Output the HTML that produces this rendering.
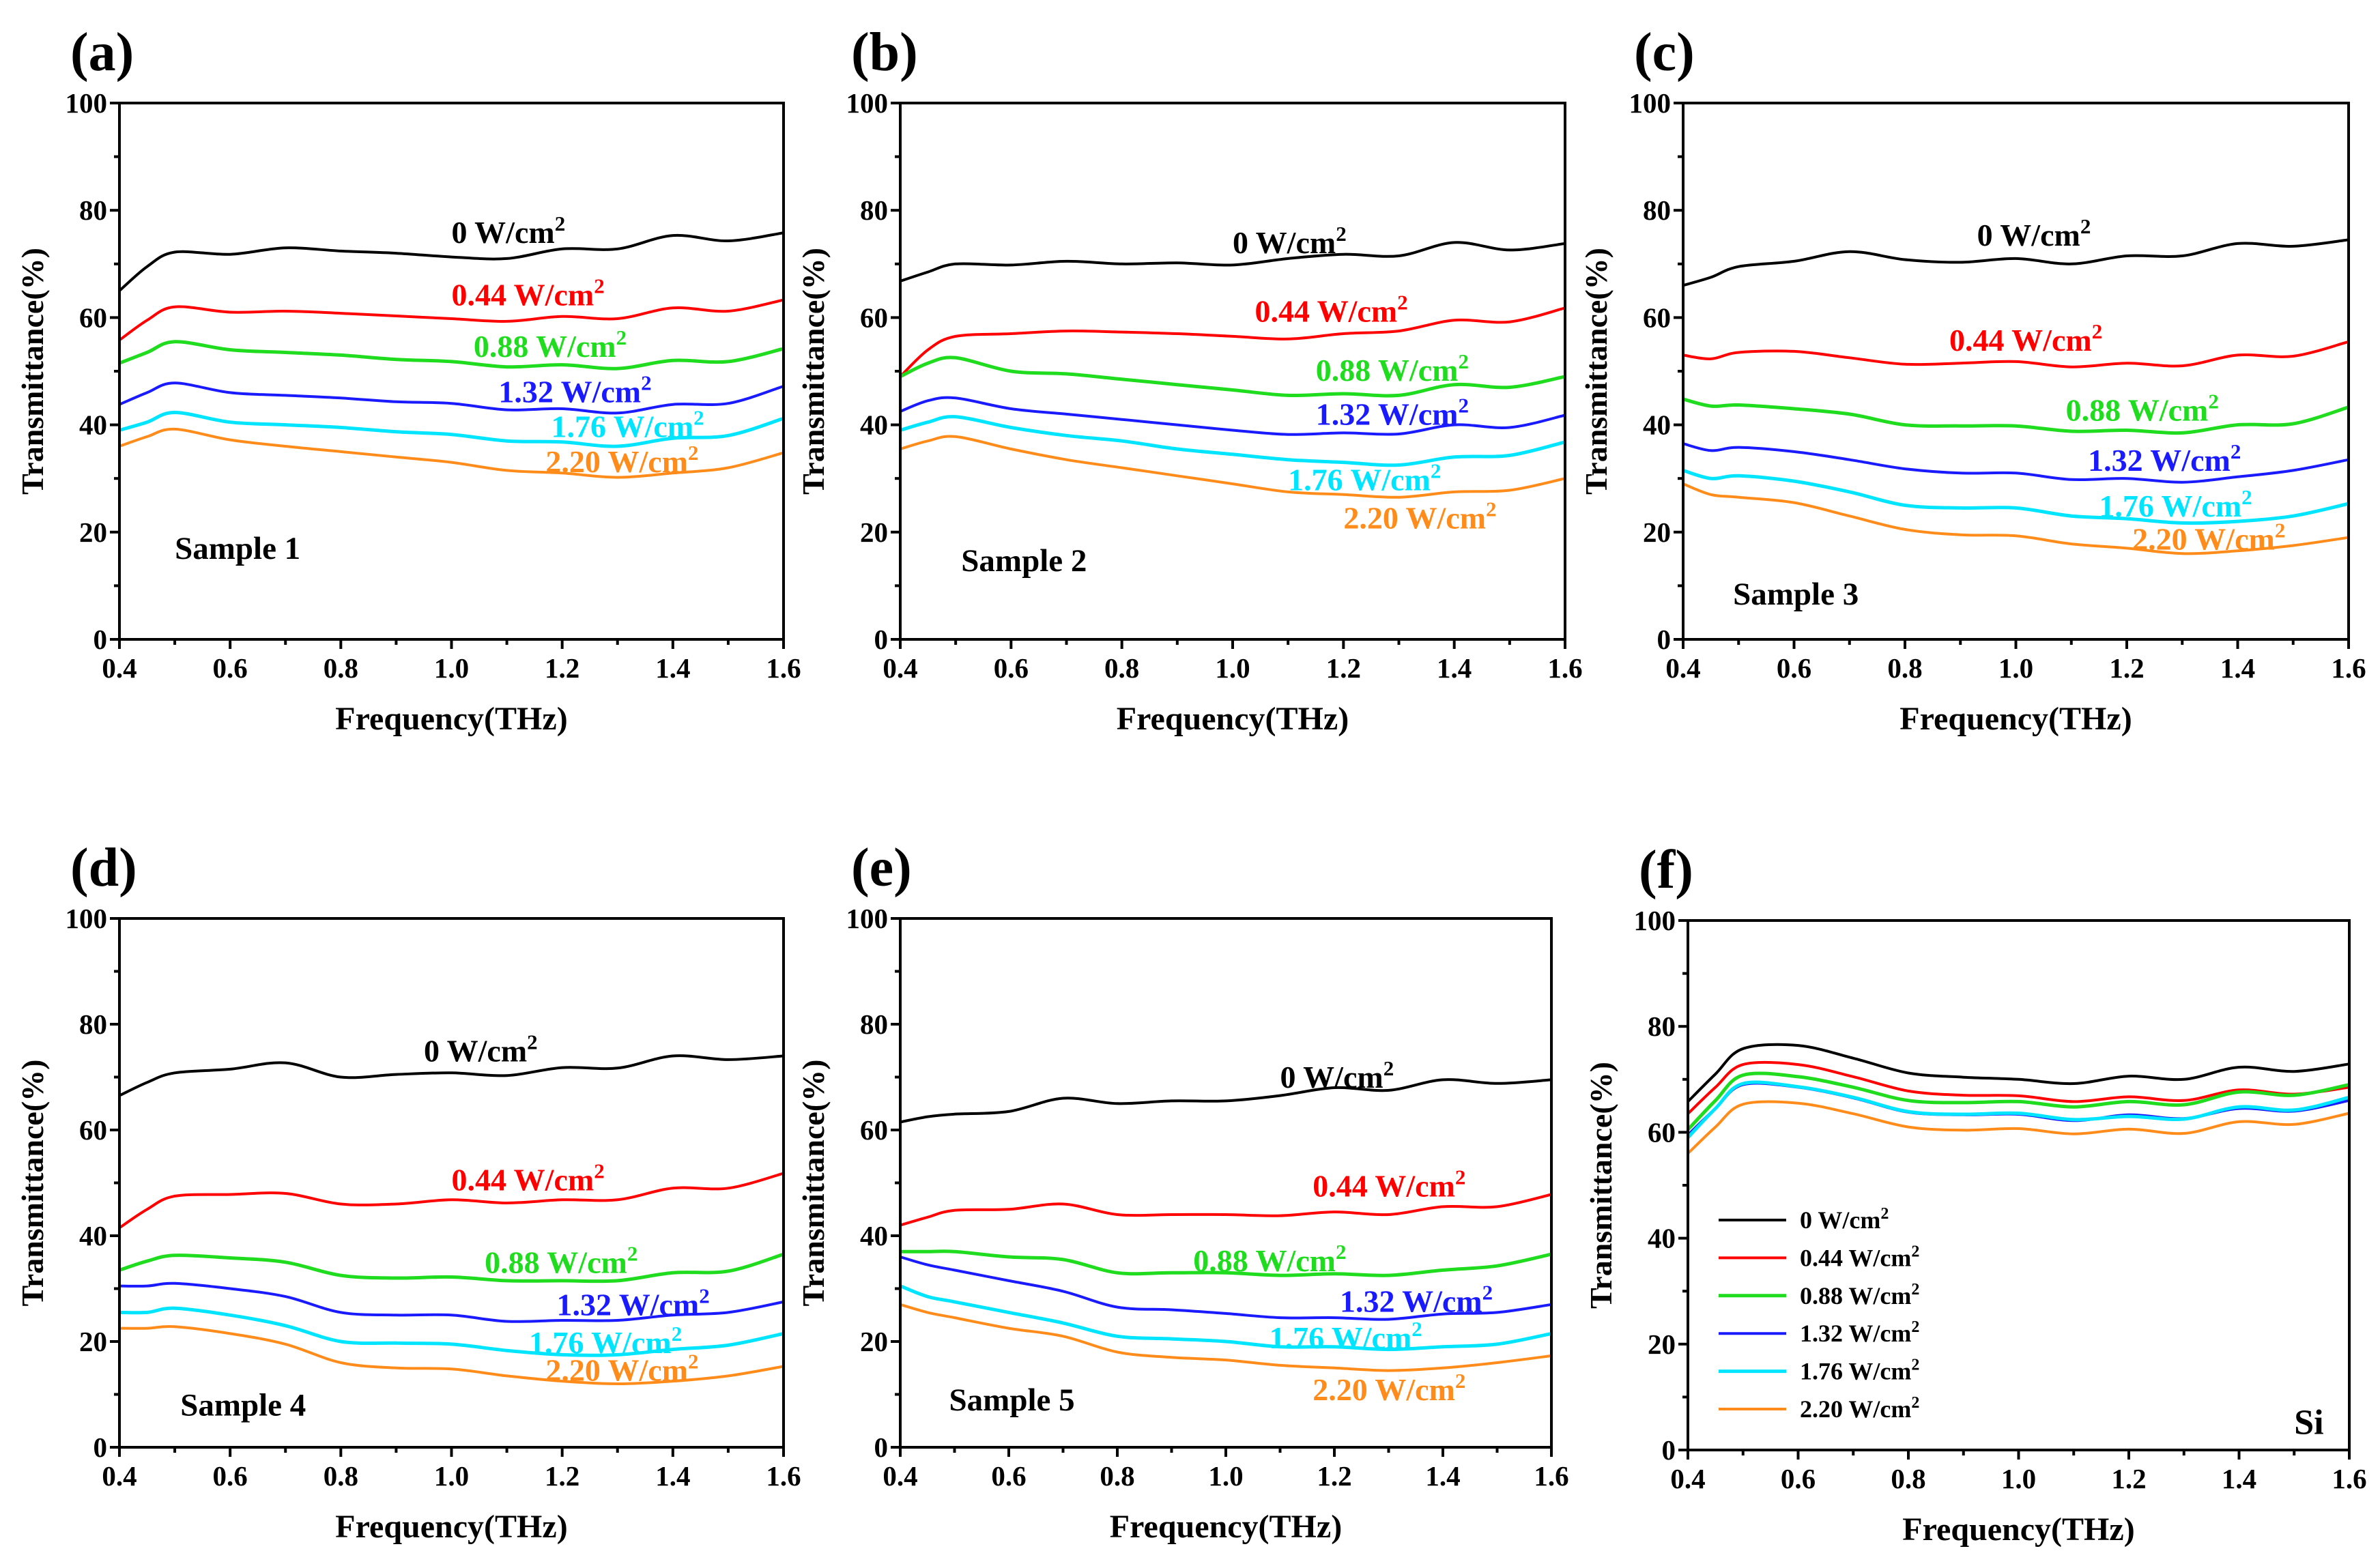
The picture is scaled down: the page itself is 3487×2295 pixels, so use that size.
<!DOCTYPE html>
<html><head><meta charset="utf-8"><style>
html,body{margin:0;padding:0;background:#fff;}
svg{display:block;}
text{font-family:"Liberation Serif",serif;font-weight:bold;}
</style></head><body>
<svg id="fig" width="3487" height="2295" viewBox="0 0 3487 2295" xmlns="http://www.w3.org/2000/svg"></svg>
<script>
const freqs = [0.4,0.45,0.5,0.6,0.7,0.8,0.9,1.0,1.1,1.2,1.3,1.4,1.5,1.6];
const seriesNames = ["0 W/cm","0.44 W/cm","0.88 W/cm","1.32 W/cm","1.76 W/cm","2.20 W/cm"];
const seriesColors = ["#000000","#ff0000","#1fdc1f","#1a1aff","#00e5ff","#ff8c1a"];
const xTicks = ["0.4","0.6","0.8","1.0","1.2","1.4","1.6"];
const yTicks = ["0","20","40","60","80","100"];

const a0=[65,69.5,72.2,71.8,73,72.4,72,71.3,71,72.8,72.8,75.3,74.3,75.8];
const a1=[55.8,59.5,62,61,61.2,60.8,60.3,59.8,59.3,60.2,59.8,61.8,61.2,63.3];
const a2=[51.5,53.5,55.5,54,53.5,53,52.2,51.8,50.8,51.2,50.5,52,51.8,54.2];
const a3=[43.8,46,47.8,46,45.5,45,44.3,44,42.8,43,42.2,43.8,44,47.2];
const a4=[39,40.5,42.3,40.5,40,39.5,38.7,38.2,37,36.8,36,37.5,38,41.2];
const a5=[36,37.8,39.2,37.2,36,35,34,33,31.5,31,30.2,31,32,34.8];

const b0=[66.8,68.5,70,69.8,70.5,70,70.2,69.8,71,71.8,71.5,74,72.6,73.8];
const b1=[49,54,56.5,57,57.5,57.3,57,56.5,56,57,57.5,59.5,59.2,61.8];
const b2=[49,51.5,52.5,50,49.5,48.5,47.5,46.5,45.5,45.8,45.5,47.5,47,49];
const b3=[42.5,44.5,45,43,42,41,40,39,38.2,38.5,38.3,40,39.5,41.8];
const b4=[39,40.5,41.5,39.5,38,37,35.5,34.5,33.5,33,32.5,34,34.3,36.8];
const b5=[35.5,37,37.8,35.5,33.5,32,30.5,29,27.5,27,26.5,27.5,27.8,30];

const c0=[66,67.5,69.5,70.5,72.3,70.8,70.3,71,70,71.5,71.5,73.8,73.3,74.5];
const c1=[53,52.3,53.5,53.7,52.5,51.3,51.5,51.8,50.8,51.5,51,53,52.8,55.5];
const c2=[44.8,43.5,43.7,43,42,40,39.8,39.8,38.8,39,38.5,40,40.2,43.3];
const c3=[36.5,35.2,35.8,35,33.5,31.8,31,31,29.8,30,29.3,30.3,31.5,33.5];
const c4=[31.5,30,30.5,29.5,27.5,25,24.5,24.5,23,22.5,21.7,22,23,25.3];
const c5=[29,27,26.5,25.5,23,20.5,19.5,19.3,17.8,17,16,16.5,17.5,19];

const d0=[66.5,69,70.8,71.5,72.7,70,70.5,70.8,70.3,71.8,71.7,74,73.3,74];
const d1=[41.5,45,47.5,47.8,48,46,46,46.8,46.2,46.8,46.8,49,49,51.8];
const d2=[33.5,35.2,36.3,35.8,35,32.5,32,32.2,31.5,31.5,31.5,33,33.3,36.5];
const d3=[30.5,30.5,31,30,28.5,25.5,25,25,23.8,24,24,25,25.5,27.5];
const d4=[25.5,25.5,26.3,25,23,20,19.7,19.5,18.3,17.5,17.5,18.5,19.3,21.5];
const d5=[22.5,22.5,22.8,21.5,19.5,16,15,14.8,13.5,12.5,12,12.5,13.5,15.3];

const e0=[61.5,62.5,63,63.5,66,65,65.5,65.5,66.5,68,67.5,69.5,68.8,69.5];
const e1=[42,43.5,44.8,45,46,44,44,44,43.8,44.5,44,45.5,45.5,47.8];
const e2=[37,37,37,36,35.5,33,33,33,32.5,32.8,32.5,33.5,34.3,36.5];
const e3=[36,34.5,33.5,31.5,29.5,26.5,26,25.3,24.5,24.5,24.2,25.2,25.5,27];
const e4=[30.5,28.5,27.5,25.5,23.5,21,20.5,20,19,19,18.5,19,19.5,21.5];
const e5=[27,25.5,24.5,22.5,21,18,17,16.5,15.5,15,14.5,15,16,17.3];

const f0=[65.8,71,75.8,76.4,74,71.2,70.4,70,69.2,70.6,70,72.3,71.5,72.9];
const f1=[63.5,68.5,72.8,72.8,70.5,67.8,67,66.9,65.8,66.7,66,68,67.2,68.5];
const f2=[60.5,66,70.8,70.5,68.5,66,65.6,65.8,64.8,65.8,65.2,67.6,67,69];
const f3=[59.5,64.5,69,68.5,66.5,63.8,63.3,63.4,62.2,63.3,62.6,64.5,64,66];
const f4=[59,64.5,69.2,68.6,66.6,63.9,63.4,63.6,62.4,63,62.5,64.8,64.2,66.6];
const f5=[56,61,65.3,65.5,63.5,61,60.4,60.7,59.7,60.6,59.8,62,61.5,63.6];

// curve label anchor positions in data units [freq, value] (left/baseline)
const labA=[[1.0,73.9],[1.0,62.3],[1.04,52.7],[1.085,44.2],[1.18,37.7],[1.17,31.2]];
const labB=[[1.0,72],[1.04,59.2],[1.15,48.2],[1.15,40],[1.1,27.8],[1.2,20.7]];
const labC=[[0.93,73.4],[0.88,53.8],[1.09,40.8],[1.13,31.4],[1.15,22.9],[1.21,16.7]];
const labD=[[0.95,73],[1.0,48.6],[1.06,33],[1.19,25],[1.14,17.8],[1.17,12.6]];
const labE=[[1.1,68],[1.16,47.4],[0.94,33.3],[1.21,25.6],[1.08,18.7],[1.16,8.9]];

const NS="http://www.w3.org/2000/svg";
const svg=document.getElementById('fig');
function mk(tag,attrs,parent){const el=document.createElementNS(NS,tag);for(const k in attrs)el.setAttribute(k,attrs[k]);(parent||svg).appendChild(el);return el;}

function smoothPath(pts){
  let d="M"+pts[0][0].toFixed(1)+","+pts[0][1].toFixed(1);
  for(let i=0;i<pts.length-1;i++){
    const p0=pts[Math.max(0,i-1)],p1=pts[i],p2=pts[i+1],p3=pts[Math.min(pts.length-1,i+2)];
    const c1x=p1[0]+(p2[0]-p0[0])/6,c1y=p1[1]+(p2[1]-p0[1])/6;
    const c2x=p2[0]-(p3[0]-p1[0])/6,c2y=p2[1]-(p3[1]-p1[1])/6;
    d+=" C"+c1x.toFixed(1)+","+c1y.toFixed(1)+" "+c2x.toFixed(1)+","+c2y.toFixed(1)+" "+p2[0].toFixed(1)+","+p2[1].toFixed(1);
  }
  return d;
}

function panel(p){
  const g=mk('g',{});
  
  
  const X=v=>p.x0+(v-0.4)/1.2*(p.x1-p.x0);
  const Y=v=>p.y1-v/100*(p.y1-p.y0);
  const pl=mk('text',{x:p.x0-72,y:p.y0-48,'font-size':80},g);
  pl.textContent='('+p.id+')';
  
  
  p.data.forEach((arr,si)=>{
    const pts=freqs.map((f,i)=>[X(f),Y(arr[i])]);
    const path=mk('path',{d:smoothPath(pts),fill:'none',stroke:seriesColors[si],'stroke-width':(si===2||si===4)?5:4},g);
    
    
  });
  if(p.labels){
    p.labels.forEach((lp,si)=>{
      const t=mk('text',{x:X(lp[0]),y:Y(lp[1]),'font-size':46,fill:seriesColors[si]},g);
      t.textContent=seriesNames[si];
      const s=mk('tspan',{dy:-18,'font-size':31},t);s.textContent='2';
      
      
    });
  }
  const sl=mk('text',{x:X(p.sample[0]),y:Y(p.sample[1]),'font-size':p.sampleSize||47},g);
  sl.textContent=p.sample[2];
  
  
  const fr=mk('rect',{x:p.x0,y:p.y0,width:p.x1-p.x0,height:p.y1-p.y0,fill:'none',stroke:'#000','stroke-width':4},g);
  
  
  for(let i=0;i<=12;i++){
    const v=0.4+i*0.1, x=X(v), major=i%2===0;
    mk('line',{x1:x,x2:x,y1:p.y1,y2:p.y1+(major?14:8),stroke:'#000','stroke-width':4},g);
  }
  xTicks.forEach(s=>{
    const t=mk('text',{x:X(parseFloat(s)),y:p.y1+56,'font-size':41,'text-anchor':'middle'},g);
    t.textContent=s;
    
    
  });
  for(let i=0;i<=10;i++){
    const y=Y(i*10), major=i%2===0;
    mk('line',{x1:p.x0,x2:p.x0-(major?14:8),y1:y,y2:y,stroke:'#000','stroke-width':4},g);
  }
  yTicks.forEach(s=>{
    const t=mk('text',{x:p.x0-18,y:Y(parseFloat(s))+14,'font-size':41,'text-anchor':'end'},g);
    t.textContent=s;
    
    
  });
  const xt=mk('text',{x:(p.x0+p.x1)/2,y:p.y1+132,'font-size':48,'text-anchor':'middle'},g);
  xt.textContent='Frequency(THz)';
  
  
  const cy=(p.y0+p.y1)/2;
  const yt=mk('text',{x:p.x0-112,y:cy,'font-size':46,'text-anchor':'middle',transform:'rotate(-90 '+(p.x0-112)+' '+cy+')'},g);
  yt.textContent='Transmittance(%)';
  
  
  return {g,X,Y};
}

panel({id:'a',x0:175,x1:1148,y0:151,y1:937,data:[a0,a1,a2,a3,a4,a5],labels:labA,sample:[0.5,15,'Sample 1']});
panel({id:'b',x0:1319,x1:2293,y0:151,y1:937,data:[b0,b1,b2,b3,b4,b5],labels:labB,sample:[0.51,12.7,'Sample 2']});
panel({id:'c',x0:2466,x1:3441,y0:151,y1:937,data:[c0,c1,c2,c3,c4,c5],labels:labC,sample:[0.49,6.5,'Sample 3']});
panel({id:'d',x0:175,x1:1148,y0:1346,y1:2121,data:[d0,d1,d2,d3,d4,d5],labels:labD,sample:[0.51,6,'Sample 4']});
panel({id:'e',x0:1319,x1:2273,y0:1346,y1:2121,data:[e0,e1,e2,e3,e4,e5],labels:labE,sample:[0.49,7,'Sample 5']});
panel({id:'f',x0:2473,x1:3442,y0:1349,y1:2125,data:[f0,f1,f2,f3,f4,f5],labels:null,sample:[1.5,3,'Si'],sampleSize:52});

const lg=mk('g',{});


seriesNames.forEach((n,i)=>{
  const y=1788+i*55.4;
  const ln=mk('line',{x1:2518,x2:2617,y1:y,y2:y,stroke:seriesColors[i],'stroke-width':(i===2||i===4)?5:4},lg);
  
  
  const t=mk('text',{x:2637,y:y+12,'font-size':36},lg);
  t.textContent=n;
  const s=mk('tspan',{dy:-14,'font-size':24},t);s.textContent='2';
  
  
});
</script>
</body></html>
